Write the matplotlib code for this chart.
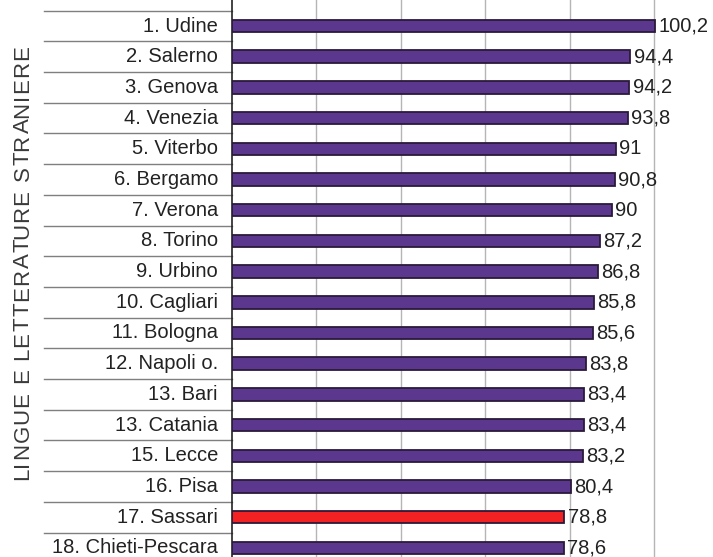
import matplotlib
matplotlib.use("Agg")
import matplotlib.pyplot as plt
from matplotlib.lines import Line2D
from matplotlib.font_manager import FontProperties

categories = ["1. Udine", "2. Salerno", "3. Genova", "4. Venezia", "5. Viterbo",
              "6. Bergamo", "7. Verona", "8. Torino", "9. Urbino", "10. Cagliari",
              "11. Bologna", "12. Napoli o.", "13. Bari", "13. Catania", "15. Lecce",
              "16. Pisa", "17. Sassari", "18. Chieti-Pescara"]
values = [100.2, 94.4, 94.2, 93.8, 91, 90.8, 90, 87.2, 86.8, 85.8, 85.6,
          83.8, 83.4, 83.4, 83.2, 80.4, 78.8, 78.6]
value_labels = ["100,2", "94,4", "94,2", "93,8", "91", "90,8", "90", "87,2", "86,8",
                "85,8", "85,6", "83,8", "83,4", "83,4", "83,2", "80,4", "78,8", "78,6"]
highlight = "17. Sassari"
axis_title = "LINGUE E LETTERATURE STRANIERE"

W, H = 713, 557
fig = plt.figure(figsize=(W / 100, H / 100), dpi=100)
fig.patch.set_facecolor("white")

left_px = 232
ax = fig.add_axes([left_px / W, 0, (W - left_px) / W, 1])
ax.set_xlim(0, 114)
row0, step = 26, 30.7
ax.set_ylim((H - row0) / step, -row0 / step)

purple = "#5c378e"
red = "#f22222"
colors = [red if c == highlight else purple for c in categories]
ypos = list(range(len(categories)))
ax.barh(ypos, values, height=0.41, color=colors, edgecolor="#2b1a3a",
        linewidth=1.3, zorder=3)

lab_fs = 14.5
for y, v, t in zip(ypos, values, value_labels):
    ax.text(v + 0.8, y, t, va="center", ha="left", fontsize=lab_fs,
            family="Liberation Sans", color="#222222", clip_on=False)

for g in [20, 40, 60, 80, 100]:
    ax.axvline(g, color="#b5b5b5", linewidth=1.0, zorder=1)

for s in ["top", "right", "bottom"]:
    ax.spines[s].set_visible(False)
ax.spines["left"].set_color("#222222")
ax.spines["left"].set_linewidth(1.2)
ax.set_xticks([])
ax.set_yticks([])

trans = ax.get_yaxis_transform()
for y, c in zip(ypos, categories):
    ax.text(-14 / (W - left_px), y, c, transform=trans, ha="right", va="center",
            fontsize=lab_fs, family="Liberation Sans", color="#222222", clip_on=False)
for y in [i - 0.5 for i in range(len(categories) + 1)]:
    ln = Line2D([-(left_px - 44) / (W - left_px), 0], [y, y], transform=trans,
                color="#7f7f7f", linewidth=1.0, clip_on=False)
    ax.add_line(ln)

# vertical title with letter spacing
renderer = fig.canvas.get_renderer()
prop = FontProperties(family="Liberation Sans", size=16)
def tw(s):
    if not s:
        return 0.0
    w, h, d = renderer.get_text_width_height_descent(s.replace(" ", "\u00a0"), prop, ismath=False)
    return w
total_w = tw(axis_title)
target_len = 435.0
n = len(axis_title)
track = max(0.0, (target_len - total_w) / (n - 1))
y_bottom_px = H - 480
for k, ch in enumerate(axis_title):
    if ch == " ":
        continue
    start = tw(axis_title[:k]) + track * k
    cw = tw(ch)
    yc = y_bottom_px + start + cw / 2
    fig.text(23 / W, yc / H, ch, rotation=90, ha="center", va="center",
             fontproperties=prop, color="#3a3a3a")

fig.savefig("out.png", dpi=100)
